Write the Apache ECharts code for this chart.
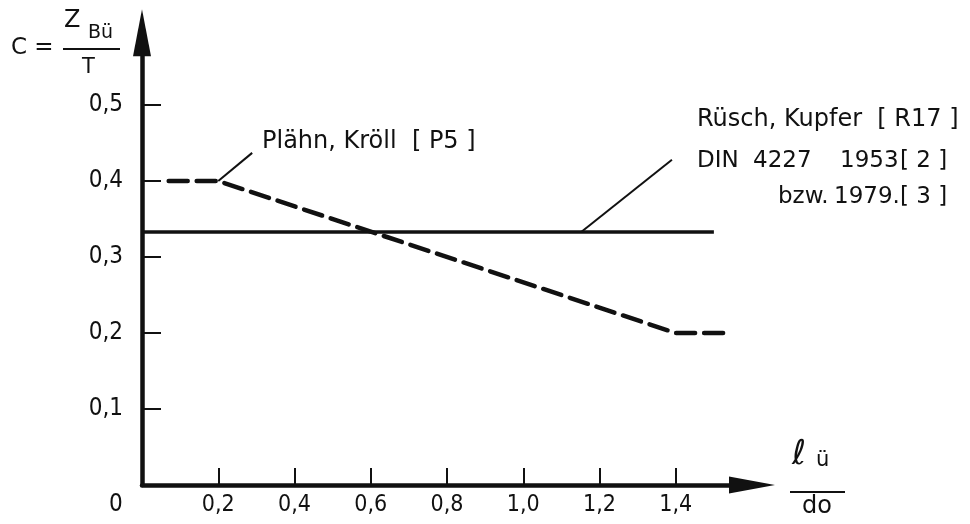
<!DOCTYPE html>
<html>
<head>
<meta charset="utf-8">
<script src="https://cdn.jsdelivr.net/npm/echarts@6/dist/echarts.min.js"></script>
<style>
  html, body { margin: 0; padding: 0; background: #fff; }
  #chart { width: 970px; height: 524px; }
</style>
</head>
<body>
<div id="chart"></div>
<script>
// Ratio of overlap length to bar diameter (l_ü / d_o)
const xTickValues = [0.2, 0.4, 0.6, 0.8, 1.0, 1.2, 1.4];
// Coefficient C = Z_Bü / T
const yTickValues = [0.1, 0.2, 0.3, 0.4, 0.5];

// Rüsch, Kupfer [R17]; DIN 4227 (1953, 1979): constant C = 1/3
const ruschX = [0, 1.5];
const ruschC = [0.333, 0.333];

// Plähn, Kröll [P5]: 0.4 up to l/d = 0.2, falling to 0.2 at l/d = 1.4
const plaehnX = [0.07, 0.2, 1.4, 1.53];
const plaehnC = [0.4, 0.4, 0.2, 0.2];

// Leader lines from the curves to their captions (data coordinates)
const plaehnLeader = [[0.2, 0.4], [0.289, 0.437]];
const ruschLeader = [[1.152, 0.333], [1.39, 0.428]];

const FONT = '"DejaVu Sans", sans-serif';
const FONT_C = '"DejaVu Sans Condensed", "DejaVu Sans", sans-serif';
const INK = '#111';

const fmt = v => (Math.round(v * 10) / 10).toFixed(1).replace('.', ',');
const pairs = (xs, ys) => xs.map((x, i) => [x, ys[i]]);
const leader = seg => ({
  data: [[{ coord: seg[0] }, { coord: seg[1] }]],
  symbol: ['none', 'none'],
  silent: true,
  label: { show: false },
  lineStyle: { color: INK, width: 2, type: 'solid' }
});
const txt = (left, top, text, size, family) => ({
  type: 'text', left, top,
  style: { text, font: size + 'px ' + (family || FONT), fill: INK }
});

const chart = echarts.init(document.getElementById('chart'), null, { renderer: 'canvas' });

chart.setOption({
  backgroundColor: '#fff',
  animation: false,
  grid: { left: 142, top: 32.8, width: 610, height: 452.2, outerBoundsMode: 'none', containLabel: false },
  xAxis: {
    type: 'value',
    min: 0, max: 1.6, interval: 0.2,
    axisLine: { show: true, lineStyle: { color: INK, width: 4.5 }, symbol: ['none', 'triangle'], symbolSize: [17, 46] },
    axisTick: { show: true, inside: true, length: 17, lineStyle: { color: INK, width: 2 }, customValues: xTickValues },
    axisLabel: { show: true, margin: 9, color: INK, fontFamily: FONT_C, fontSize: 23, formatter: fmt, customValues: xTickValues },
    splitLine: { show: false }
  },
  yAxis: {
    type: 'value',
    min: 0, max: 0.595, interval: 0.1,
    axisLine: { show: true, lineStyle: { color: INK, width: 4.5 }, symbol: ['none', 'triangle'], symbolSize: [18, 47] },
    axisTick: { show: true, inside: true, length: 19, lineStyle: { color: INK, width: 2 }, customValues: yTickValues },
    axisLabel: { show: true, margin: 19, color: INK, fontFamily: FONT_C, fontSize: 24, formatter: fmt, customValues: yTickValues },
    splitLine: { show: false }
  },
  series: [
    {
      name: 'Rüsch, Kupfer [R17]; DIN 4227',
      type: 'line',
      data: pairs(ruschX, ruschC),
      showSymbol: false,
      lineStyle: { color: INK, width: 3.5, type: 'solid' },
      markLine: leader(ruschLeader)
    },
    {
      name: 'Plähn, Kröll [P5]',
      type: 'line',
      data: pairs(plaehnX, plaehnC),
      showSymbol: false,
      lineStyle: { color: INK, width: 4.5, type: [19, 9], cap: 'round' },
      markLine: leader(plaehnLeader)
    }
  ],
  graphic: [
    // origin label
    txt(109, 493, '0', 24, FONT_C),
    // y-axis quantity: C = Z_Bü / T
    txt(11, 37, 'C =', 23),
    txt(64, 9, 'Z', 24),
    txt(88, 24, 'Bü', 19),
    { type: 'line', shape: { x1: 63, y1: 49, x2: 120, y2: 49 }, style: { stroke: INK, lineWidth: 2 } },
    txt(82, 57, 'T', 21),
    // x-axis quantity: l_ü / d_o
    txt(792, 438, 'ℓ', 34),
    txt(816, 450, 'ü', 21),
    { type: 'line', shape: { x1: 790, y1: 492, x2: 845, y2: 492 }, style: { stroke: INK, lineWidth: 2 } },
    txt(802, 495, 'do', 24),
    // captions
    txt(262, 130, 'Plähn, Kröll  [ P5 ]', 24),
    txt(697, 108, 'Rüsch, Kupfer  [ R17 ]', 24),
    txt(697, 150, 'DIN', 23),
    txt(753, 150, '4227', 23),
    txt(840, 150, '1953', 23),
    txt(900, 150, '[ 2 ]', 23),
    txt(778, 186, 'bzw.', 23),
    txt(834, 186, '1979.', 23),
    txt(900, 186, '[ 3 ]', 23)
  ]
});
</script>
</body>
</html>
